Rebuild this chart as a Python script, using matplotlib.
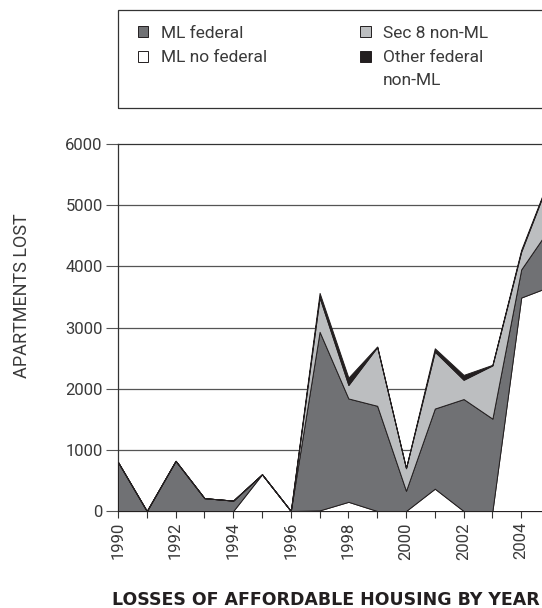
import matplotlib
matplotlib.use("Agg")
import matplotlib.pyplot as plt
from matplotlib.patches import Patch, Rectangle

years = list(range(1990, 2006))
ml_no_federal = [0, 0, 0, 0, 0, 600, 0, 10, 150, 0, 0, 365, 0, 0, 3490, 3670]
ml_federal = [800, 0, 820, 210, 170, 0, 0, 2920, 1690, 1720, 330, 1310, 1830, 1510, 460, 965]
sec8_non_ml = [0, 0, 0, 0, 0, 0, 0, 560, 220, 960, 370, 930, 315, 870, 290, 820]
other_federal = [0, 0, 0, 0, 0, 0, 0, 75, 120, 10, 0, 55, 80, 10, 30, 20]

series_labels = ["ML no federal", "ML federal", "Sec 8 non-ML", "Other federal", "non-ML"]
colors = ["#ffffff", "#707174", "#bcbec0", "#231f20"]

plt.rcParams['font.family'] = ['Roboto', 'DejaVu Sans']
TXT = "#3a3a3a"
FW = 'normal'

W, H = 542, 608
fig = plt.figure(figsize=(W / 100, H / 100), dpi=100)
ax = fig.add_axes([118 / W, (H - 511) / H, 432 / W, (511 - 144) / H])

polys = ax.stackplot(years, ml_no_federal, ml_federal, sec8_non_ml, other_federal,
                     colors=colors, edgecolor="#231f20", linewidth=0.7, zorder=3)

ax.set_xlim(1990, 2005)
ax.set_ylim(0, 6000)
ax.set_yticks(range(0, 6001, 1000))
ax.set_yticklabels([str(v) for v in range(0, 6001, 1000)], fontsize=12,
                   fontweight=FW, color=TXT)
ax.set_xticks(range(1990, 2005, 2))
ax.set_xticks(range(1990, 2006), minor=True)
ax.set_xticklabels([str(y) for y in range(1990, 2005, 2)], rotation=90,
                   fontsize=12, fontweight=FW, color=TXT)
ax.tick_params(axis='x', which='both', direction='out', length=5, width=0.8,
               color="#333333", pad=3)
ax.tick_params(axis='y', direction='out', length=9, width=0.8, color="#555555", pad=2)
for y in range(1000, 6000, 1000):
    ax.axhline(y, color="#555555", linewidth=0.9, zorder=1)
ax.spines["right"].set_visible(False)
for s in ["left", "top", "bottom"]:
    ax.spines[s].set_linewidth(0.9)
    ax.spines[s].set_color("#333333")

fig.text(22 / W, 1 - 296 / H, "APARTMENTS LOST", rotation=90, ha='center', va='center',
         fontsize=13, fontweight=FW, color=TXT)

fig.text(326 / W, 1 - 600 / H, "LOSSES OF AFFORDABLE HOUSING BY YEAR", ha='center',
         va='center', fontsize=12.5, fontweight='bold', color="#231f20",
         family=['DejaVu Sans'])

# Legend frame
fig.patches.append(Rectangle((118 / W, 1 - 108 / H), 500 / W, 98 / H,
                             transform=fig.transFigure, fill=False,
                             edgecolor="#333333", linewidth=0.9))
handles = [Patch(facecolor=colors[1], edgecolor="#231f20", linewidth=0.7, label=series_labels[1]),
           Patch(facecolor=colors[0], edgecolor="#231f20", linewidth=0.7, label=series_labels[0]),
           Patch(facecolor=colors[2], edgecolor="#231f20", linewidth=0.7, label=series_labels[2]),
           Patch(facecolor=colors[3], edgecolor="#231f20", linewidth=0.7, label=series_labels[3])]
leg = fig.legend(handles=handles, ncol=2, loc='upper left',
                 bbox_to_anchor=(138 / W, 1 - 26 / H), frameon=False,
                 fontsize=12.5, handlelength=0.6, handleheight=0.6, handletextpad=0.7,
                 columnspacing=5.4, labelspacing=0.53, borderpad=0, borderaxespad=0)
for t in leg.get_texts():
    t.set_fontweight(FW)
    t.set_color(TXT)

fig.canvas.draw()
bb = leg.get_texts()[3].get_window_extent()
fig.text(bb.x0 / W, (bb.y0 + bb.y1) / 2 / H - 23 / H, series_labels[4], ha='left', va='center',
         fontsize=12.5, fontweight=FW, color=TXT)

fig.savefig("out.png", dpi=100)
